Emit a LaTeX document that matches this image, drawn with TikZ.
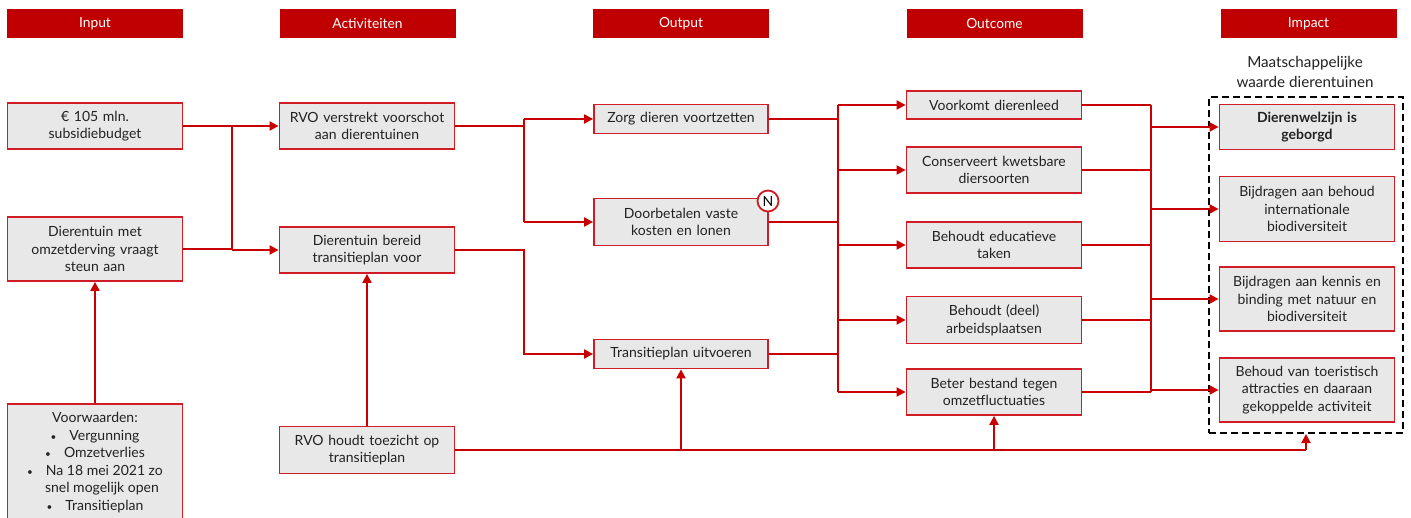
\documentclass[tikz,border=0pt]{standalone}
\usepackage{fontspec}
\setmainfont{Lato}
\usetikzlibrary{arrows.meta}
\definecolor{hdr}{HTML}{C00000}
\definecolor{bred}{HTML}{D01C24}
\definecolor{lred}{HTML}{C80000}
\definecolor{bfill}{HTML}{E8E8E8}
\definecolor{txt}{HTML}{222222}
\tikzset{
  hdrbox/.style={fill=hdr, draw=none, minimum width=176, minimum height=29, inner sep=0pt,
    text=white, font=\fontsize{13.8}{16}\selectfont},
  box/.style={draw=bred, fill=bfill, line width=1.8pt, inner sep=0pt, align=center,
    text=txt, font=\fontsize{14}{17.7}\selectfont, text width=172},
  conn/.style={draw=lred, line width=2pt},
  arr/.style={conn, -{Triangle[length=9pt, width=9pt]}},
}
\newcommand{\bul}{{\fontsize{10}{10}\selectfont\textbullet}\hspace{13pt}}
\begin{document}
\begin{tikzpicture}[x=1pt, y=-1pt]
\useasboundingbox (0,0) rectangle (1411,518);
\begin{scope}
\clip (0,0) rectangle (1411,518);
% headers
\node[hdrbox] (hIn)  at (95,23.5) {Input};
\node[hdrbox] (hAct) at (367.5,23.5) {Activiteiten};
\node[hdrbox] (hOut) at (681,23.5) {Output};
\node[hdrbox] (hOc)  at (994.5,23.5) {Outcome};
\node[hdrbox] (hImp) at (1308.5,23.5) {Impact};
% input
\node[box, minimum width=175, minimum height=46] (budget) at (95,126) {€ 105 mln.\\subsidiebudget};
\node[box, minimum width=175, minimum height=64] (dier) at (95,249) {Dierentuin met\\omzetderving vraagt\\steun aan};
\node[box, minimum width=175, minimum height=125, anchor=north] (voorw) at (95,403) {};
\node[anchor=north, align=center, text=txt, font=\fontsize{14}{17.6}\selectfont, inner sep=0pt] (voorwtxt) at (95,412)
  {Voorwaarden:\\ \bul Vergunning\\ \bul Omzetverlies\\ \bul Na 18 mei 2021 zo\\ \hspace{14pt}snel mogelijk open\\ \bul Transitieplan};
% activiteiten
\node[box, minimum width=175, minimum height=46] (rvo) at (367,126) {RVO verstrekt voorschot\\aan dierentuinen};
\node[box, minimum width=175, minimum height=46] (bereid) at (367,250) {Dierentuin bereid\\transitieplan voor};
\node[box, minimum width=175, minimum height=47] (toez) at (367,450) {RVO houdt toezicht op\\transitieplan};
% output
\node[box, minimum width=174, minimum height=29] (zorg) at (681,119) {Zorg dieren voortzetten};
\node[box, minimum width=174, minimum height=47] (doorb) at (681,222) {Doorbetalen vaste\\kosten en lonen};
\node[box, minimum width=174, minimum height=29] (trans) at (681,354) {Transitieplan uitvoeren};
% outcome
\node[box, minimum width=175, minimum height=28] (oc1) at (994,105) {Voorkomt dierenleed};
\node[box, minimum width=175, minimum height=46] (oc2) at (994,170) {Conserveert kwetsbare\\diersoorten};
\node[box, minimum width=175, minimum height=46] (oc3) at (994,245) {Behoudt educatieve\\taken};
\node[box, minimum width=175, minimum height=47] (oc4) at (994,320) {Behoudt (deel)\\arbeidsplaatsen};
\node[box, minimum width=175, minimum height=46] (oc5) at (994,392) {Beter bestand tegen\\omzetfluctuaties};
% impact
\node[draw=black, line width=2pt, dash pattern=on 7pt off 4pt, minimum width=194, minimum height=336, inner sep=0pt] (grp) at (1306,265) {};
\node[align=center, text=txt, font=\fontsize{15.2}{20}\selectfont, inner sep=0pt] (grplbl) at (1305,72) {Maatschappelijke\\waarde dierentuinen};
\node[box, minimum width=175, minimum height=45, font=\bfseries\fontsize{14}{17.7}\selectfont] (im1) at (1307,127) {Dierenwelzijn is\\geborgd};
\node[box, minimum width=175, minimum height=65] (im2) at (1307,209) {Bijdragen aan behoud\\internationale\\biodiversiteit};
\node[box, minimum width=175, minimum height=64] (im3) at (1307,299) {Bijdragen aan kennis en\\binding met natuur en\\biodiversiteit};
\node[box, minimum width=175, minimum height=64] (im4) at (1307,390) {Behoud van toeristisch\\attracties en daaraan\\gekoppelde activiteit};
\end{scope}
% input -> activities
\coordinate (ja) at (232,126);
\coordinate (jb) at (232,250);
\draw[conn] (budget.east) -- (ja);
\draw[conn] (dier.east) -- (232,249);
\draw[conn] (ja) -- (jb);
\draw[arr] (ja) -- (rvo.west);
\draw[arr] (jb) -- (bereid.west);
% activities -> output
\coordinate (jc) at (524,126);
\coordinate (jc1) at (524,119);
\coordinate (jc2) at (524,222);
\coordinate (jd) at (524,250);
\draw[conn] (rvo.east) -- (jc);
\draw[conn] (jc1) -- (jc2);
\draw[arr] (jc1) -- (zorg.west);
\draw[arr] (jc2) -- (doorb.west);
\draw[arr] (bereid.east) -- (jd) |- (trans.west);
% toezicht
\coordinate (je) at (1306,450);
\coordinate (jf) at (681,450);
\coordinate (jg) at (994,450);
\draw[arr] (toez.north) -- (bereid.south);
\draw[arr] (voorw.north) -- (dier.south);
\draw[conn] (toez.east) -- (je);
\draw[arr] (je) -- (grp.south);
\draw[arr] (jf) -- (trans.south);
\draw[arr] (jg) -- (oc5.south);
% output -> outcome
\coordinate (k1) at (838,105);
\coordinate (k5) at (838,392);
\draw[conn] (zorg.east) -- (838,119);
\draw[conn] (doorb.east) -- (838,222);
\draw[conn] (trans.east) -- (838,354);
\draw[conn] (k1) -- (k5);
\draw[arr] (k1) -- (oc1.west);
\draw[arr] (838,170) -- (oc2.west);
\draw[arr] (838,245) -- (oc3.west);
\draw[arr] (838,320) -- (oc4.west);
\draw[arr] (k5) -- (oc5.west);
% outcome -> impact
\coordinate (m1) at (1151,105);
\coordinate (m5) at (1151,392);
\draw[conn] (oc1.east) -- (m1);
\draw[conn] (oc2.east) -- (1151,170);
\draw[conn] (oc3.east) -- (1151,245);
\draw[conn] (oc4.east) -- (1151,320);
\draw[conn] (oc5.east) -- (m5);
\draw[conn] (m1) -- (m5);
\draw[arr] (1151,127) -- (im1.west);
\draw[arr] (1151,209) -- (im2.west);
\draw[arr] (1151,299) -- (im3.west);
\draw[arr] (1151,390) -- (im4.west);
% N mark
\node[circle, draw=bred, fill=white, line width=1.8pt, minimum size=21, inner sep=0pt,
  font=\fontsize{14}{16}\selectfont] (nmark) at (768,201) {N};
\end{tikzpicture}
\end{document}
